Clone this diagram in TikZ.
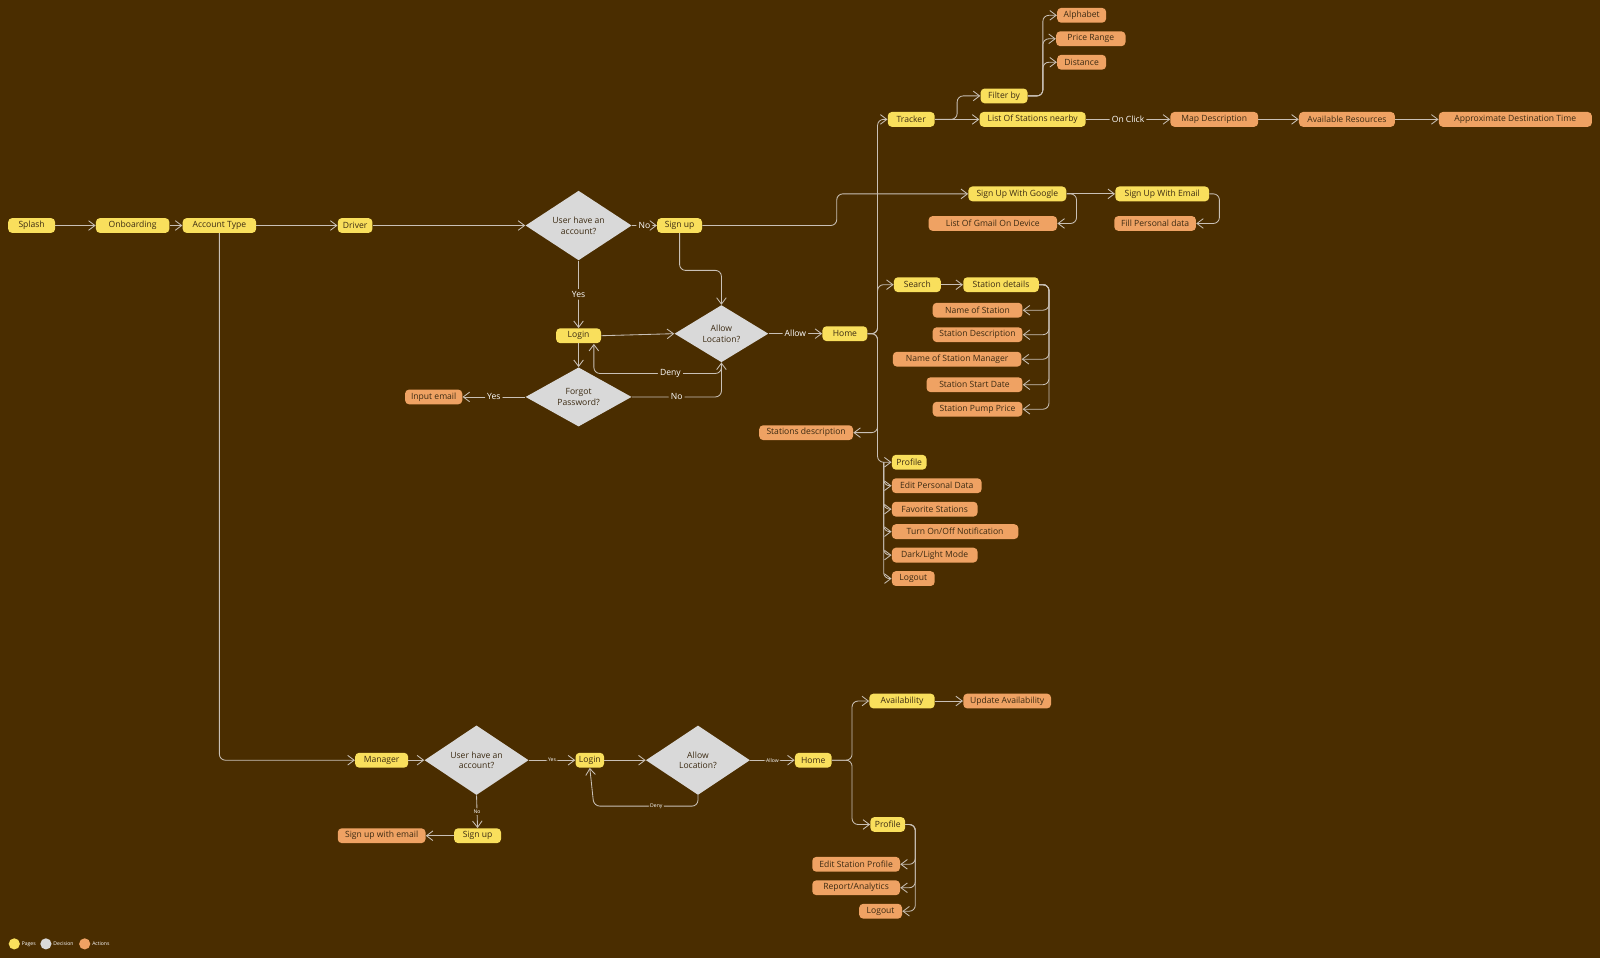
\documentclass[tikz,border=0pt]{standalone}
\usepackage{fontspec}
\setmainfont{Open Sans}
\usetikzlibrary{shapes.geometric,arrows.meta,positioning}
\definecolor{bg}{HTML}{4A2D00}
\definecolor{yel}{HTML}{F9DF5C}
\definecolor{ora}{HTML}{EFA263}
\definecolor{gry}{HTML}{D9D9D9}
\definecolor{lnc}{HTML}{C9C0B6}
\definecolor{txt}{HTML}{3B2A12}
\begin{document}
\begin{tikzpicture}[x=0.02551cm,y=-0.02551cm,
  pill/.style={rounded corners=0.1cm,minimum height=0.37cm,inner sep=0pt,font=\fontsize{6.1}{7}\selectfont,text=txt},
  pg/.style={pill,fill=yel,minimum width=#1*0.02551cm},
  ac/.style={pill,fill=ora,minimum width=#1*0.02551cm},
  dec/.style n args={2}{diamond,fill=gry,inner sep=0pt,minimum width=#1*0.02551cm,minimum height=#2*0.02551cm,align=center,font=\fontsize{6.1}{7.6}\selectfont,text=txt},
  ln/.style={draw=lnc,line width=0.6pt,rounded corners=0.15cm,-{Straight Barb[length=1.6mm,width=2.4mm]}},
  lbl/.style={fill=bg,text=white,font=\fontsize{6.1}{7}\selectfont,inner sep=1.5pt},
  slbl/.style={fill=bg,text=white,font=\fontsize{3.6}{4}\selectfont,inner sep=1pt},
  leg/.style={circle,inner sep=0pt,minimum size=0.28cm}]
\useasboundingbox (0,0) rectangle (1568,939);
\fill[bg] (0,0) rectangle (1568,939);
% Driver flow
\node[pg=46] (splash) at (31,221) {Splash};
\node[pg=72] (onb) at (130,221) {Onboarding};
\node[pg=72] (acct) at (215,221) {Account Type};
\node[pg=34] (driver) at (348,221) {Driver};
\node[dec={104}{58}] (d1) at (567,221) {User have an\\account?};
\node[pg=44] (signup) at (666,221) {Sign up};
\node[pg=44] (login) at (567,329) {Login};
\node[dec={92}{56}] (d2) at (707,327) {Allow\\Location?};
\node[pg=44] (home) at (828,327) {Home};
\node[dec={104}{56}] (d3) at (567,389) {Forgot\\Password?};
\node[ac=56] (inemail) at (425,389) {Input email};
\node[ac=92] (sdesc) at (790,424) {Stations description};
\node[pg=46] (tracker) at (893,117) {Tracker};
\node[pg=46] (filter) at (984,94) {Filter by};
\node[pg=104] (list) at (1012,117) {List Of Stations nearby};
\node[ac=86] (map) at (1190,117) {Map Description};
\node[ac=94] (avail) at (1320,117) {Available Resources};
\node[ac=150] (approx) at (1485,117) {Approximate Destination Time};
\node[ac=48] (alpha) at (1060,15) {Alphabet};
\node[ac=68] (price) at (1069,38) {Price Range};
\node[ac=48] (dist) at (1060,61) {Distance};
\node[pg=96] (google) at (997,190) {Sign Up With Google};
\node[ac=126] (gmail) at (973,219) {List Of Gmail On Device};
\node[pg=92] (semail) at (1139,190) {Sign Up With Email};
\node[ac=80] (fill) at (1132,219) {Fill Personal data};
\node[pg=46] (search) at (899,279) {Search};
\node[pg=74] (stdet) at (981,279) {Station details};
\node[ac=88] (c1) at (958,304) {Name of Station};
\node[ac=88] (c2) at (958,328) {Station Description};
\node[ac=126] (c3) at (938,352) {Name of Station Manager};
\node[ac=94] (c4) at (955,377) {Station Start Date};
\node[ac=88] (c5) at (958,401) {Station Pump Price};
\node[pg=34] (prof) at (891,453) {Profile};
\node[ac=88] (p1) at (918,476) {Edit Personal Data};
\node[ac=84] (p2) at (916,499) {Favorite Stations};
\node[ac=124] (p3) at (936,521) {Turn On/Off Notification};
\node[ac=84] (p4) at (916,544) {Dark/Light Mode};
\node[ac=42] (p5) at (895,567) {Logout};
% Manager flow
\node[pg=52] (mgr) at (374,745) {Manager};
\node[dec={102}{68}] (d4) at (467,745) {User have an\\account?};
\node[pg=28] (login2) at (578,745) {Login};
\node[dec={102}{68}] (d5) at (684,745) {Allow\\Location?};
\node[pg=36] (home2) at (797,745) {Home};
\node[pg=46] (signup2) at (468,819) {Sign up};
\node[ac=86] (swe) at (374,819) {Sign up with email};
\node[pg=64] (avl) at (884,687) {Availability};
\node[ac=86] (upd) at (987,687) {Update Availability};
\node[pg=34] (prof2) at (870,808) {Profile};
\node[ac=86] (m1) at (839,847) {Edit Station Profile};
\node[ac=86] (m2) at (839,870) {Report/Analytics};
\node[ac=42] (m3) at (863,893) {Logout};
% edges driver
\draw[ln] (splash) -- (onb);
\draw[ln] (onb) -- (acct);
\draw[ln] (acct) -- (driver);
\draw[ln] (driver) -- (d1);
\draw[ln] (d1) -- node[lbl] (lno) {No} (signup);
\draw[ln] (d1) -- node[lbl] (lyes) {Yes} (login);
\draw[ln] (signup.south) |- (707,265) -- (d2.north);
\draw[ln] (signup.east) -- (820,221) |- (google.west);
\draw[ln] (login.east) -- (d2.west);
\draw[ln] (login.south) -- (d3.north);
\draw[ln] (d2.south) |- (582,366) node[lbl,pos=0.7] (ldeny) {Deny} -- (582,337);
\draw[ln] (d3.east) -- (707,389) node[lbl,pos=0.5] (lno2) {No} -- (d2.south);
\draw[ln] (d3.west) -- node[lbl] (lyes2) {Yes} (inemail.east);
\draw[ln] (d2.east) -- node[lbl] (lallow) {Allow} (home.west);
\draw[ln] (home.east) -- (860,327) |- (tracker.west);
\draw[ln] (home.east) -- (860,327) |- (search.west);
\draw[ln] (home.east) -- (860,327) |- (sdesc.east);
\draw[ln] (home.east) -- (860,327) -- (860,420) |- (prof.west);
\foreach \p in {p1,p2,p3,p4,p5}{\draw[ln] (866,453) |- (\p.west);}
\draw[ln] (tracker.east) -- (938,117) |- (filter.west);
\draw[ln] (tracker.east) -- (list.west);
\foreach \p in {alpha,price,dist}{\draw[ln] (filter.east) -- (1022,94) |- (\p.west);}
\draw[ln] (list.east) -- node[lbl] (lclick) {On Click} (map.west);
\draw[ln] (map) -- (avail);
\draw[ln] (avail) -- (approx);
\draw[ln] (google) -- (semail);
\draw[ln] (google.east) -- (1055,190) |- (gmail.east);
\draw[ln] (semail.east) -- (1195,190) |- (fill.east);
\draw[ln] (search) -- (stdet);
\foreach \p in {c1,c2,c3,c4,c5}{\draw[ln] (stdet.east) -- (1028,279) |- (\p.east);}
% edges manager
\draw[ln] (acct.south) |- (mgr.west);
\draw[ln] (mgr) -- (d4);
\draw[ln] (d4) -- node[slbl] (lyes3) {Yes} (login2);
\draw[ln] (login2) -- (d5);
\draw[ln] (d5) -- node[slbl] (lallow2) {Allow} (home2);
\draw[ln] (d5.south) |- (582,790) node[slbl,pos=0.7] (ldeny2) {Deny} -- (login2.south);
\draw[ln] (d4.south) -- node[slbl] (lno3) {No} (signup2.north);
\draw[ln] (signup2) -- (swe);
\draw[ln] (home2.east) -- (835,745) |- (avl.west);
\draw[ln] (home2.east) -- (835,745) |- (prof2.west);
\draw[ln] (avl) -- (upd);
\foreach \p in {m1,m2,m3}{\draw[ln] (prof2.east) -- (897,808) |- (\p.east);}
% legend
\node[leg,fill=yel] (lg1) at (14,925) {};
\node[right=1pt of lg1,text=white,font=\fontsize{3.6}{4}\selectfont,inner sep=0pt] (lt1) {Pages};
\node[leg,fill=gry] (lg2) at (45,925) {};
\node[right=1pt of lg2,text=white,font=\fontsize{3.6}{4}\selectfont,inner sep=0pt] (lt2) {Decision};
\node[leg,fill=ora] (lg3) at (83,925) {};
\node[right=1pt of lg3,text=white,font=\fontsize{3.6}{4}\selectfont,inner sep=0pt] (lt3) {Actions};
\end{tikzpicture}
\end{document}
